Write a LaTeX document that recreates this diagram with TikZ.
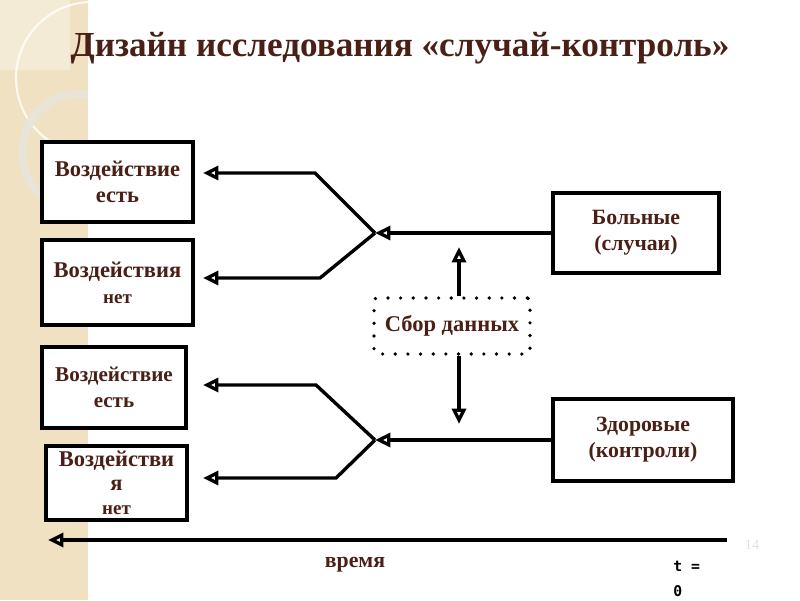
\documentclass[tikz,border=0pt]{standalone}
\usepackage{fontspec}
\setmainfont{Liberation Serif}
\newfontfamily\monofont{DejaVu Sans Mono}
\usepackage{tikz}
\usetikzlibrary{arrows.meta,positioning,backgrounds,shapes}
\definecolor{brn}{HTML}{4A1F16}
\definecolor{band}{HTML}{EFE1C1}
\definecolor{ring}{HTML}{E9E4D8}
\def\px{0.025cm}
\tikzset{
  box/.style={draw, line width=2.3pt, fill=white, text=brn, align=center, inner sep=0pt,
    font=\bfseries\fontsize{16}{18.5}\selectfont},
  arr/.style={line width=2.4pt, -{Triangle[open,length=11pt,width=10pt]}},
}

\begin{document}
\begin{tikzpicture}[x=0.025cm, y=-0.025cm]
  % page and left band
  \fill[white] (0,0) rectangle (800,600);
  \fill[band] (0,0) rectangle (88,600);
  \begin{scope}
    \clip (0,0) rectangle (88,600);
    \fill[white, opacity=0.35] (0,0) rectangle (70,70);
    \draw[white, line width=1.5pt, opacity=0.8] (92,78) circle (76);
    \draw[ring, line width=6pt] (80,152) circle (58);
  \end{scope}

  % title
  \node[text=brn, font=\bfseries\fontsize{25}{30}\selectfont] (title) at (400,48)
    {Дизайн исследования «случай-контроль»};

  % boxes
  \node[box, minimum width=151*\px, minimum height=80*\px] (exp1) at (117.5,182) {Воздействие\\есть};
  \node[box, minimum width=151*\px, minimum height=85*\px] (noexp1) at (117.5,282.5)
    {Воздействия\\{\fontsize{13.5}{18.5}\selectfont нет}};
  \node[box, minimum width=144*\px, minimum height=81*\px, font=\bfseries\fontsize{15}{18.5}\selectfont] (exp2) at (114,387.5) {Воздействие\\есть};
  \node[box, minimum width=141*\px, minimum height=74*\px, font=\bfseries\fontsize{16}{17}\selectfont] (noexp2) at (116.5,483)
    {Воздействи\\я\\{\fontsize{13.5}{17}\selectfont нет}};
  \node[box, font=\bfseries\fontsize{15.5}{18.5}\selectfont, minimum width=166*\px, minimum height=80*\px] (sick) at (636,233)
    {Больные\\(случаи)};
  \node[box, font=\bfseries\fontsize{15.5}{18.5}\selectfont, minimum width=180*\px, minimum height=82*\px] (healthy) at (643,440)
    {Здоровые\\(контроли)};
  \node[box, line width=2.6pt, dash pattern=on 0pt off 9pt, line cap=round, rounded corners=2pt,
    minimum width=156*\px, minimum height=56*\px] (data) at (452,326) {Сбор данных};

  % junctions and free ends
  \coordinate (j1) at (375,233);
  \coordinate (j2) at (375,440);
  \coordinate (e1) at (203,173);
  \coordinate (e2) at (203,278);
  \coordinate (e3) at (203,385);
  \coordinate (e4) at (203,478);
  \coordinate (up) at (459,247);
  \coordinate (down) at (459,424);
  \coordinate (t0) at (727,540);
  \coordinate (tend) at (48,540);

  \draw[arr] (sick.west) -- (j1);
  \draw[arr] (j1) -- (315,173) -- (e1);
  \draw[arr] (j1) -- (320,278) -- (e2);
  \draw[arr] (healthy.west) -- (j2);
  \draw[arr] (j2) -- (316,385) -- (e3);
  \draw[arr] (j2) -- (336,478) -- (e4);
  \draw[arr] (data.north -| up) -- (up);
  \draw[arr] (data.south -| down) -- (down);
  \draw[arr] (t0) -- (tend);

  % labels
  \node[text=brn, font=\bfseries\fontsize{15.5}{18}\selectfont] (time) at (355,565) {время};
  \node[anchor=north west, align=left, inner sep=0pt, font=\monofont\bfseries\fontsize{10.5}{18}\selectfont] (tzero) at (673,561)
    {t =\\0};
  \node[text=band!80!black!40, font=\fontsize{10}{12}\selectfont] (num) at (752,545) {14};
\end{tikzpicture}
\end{document}
